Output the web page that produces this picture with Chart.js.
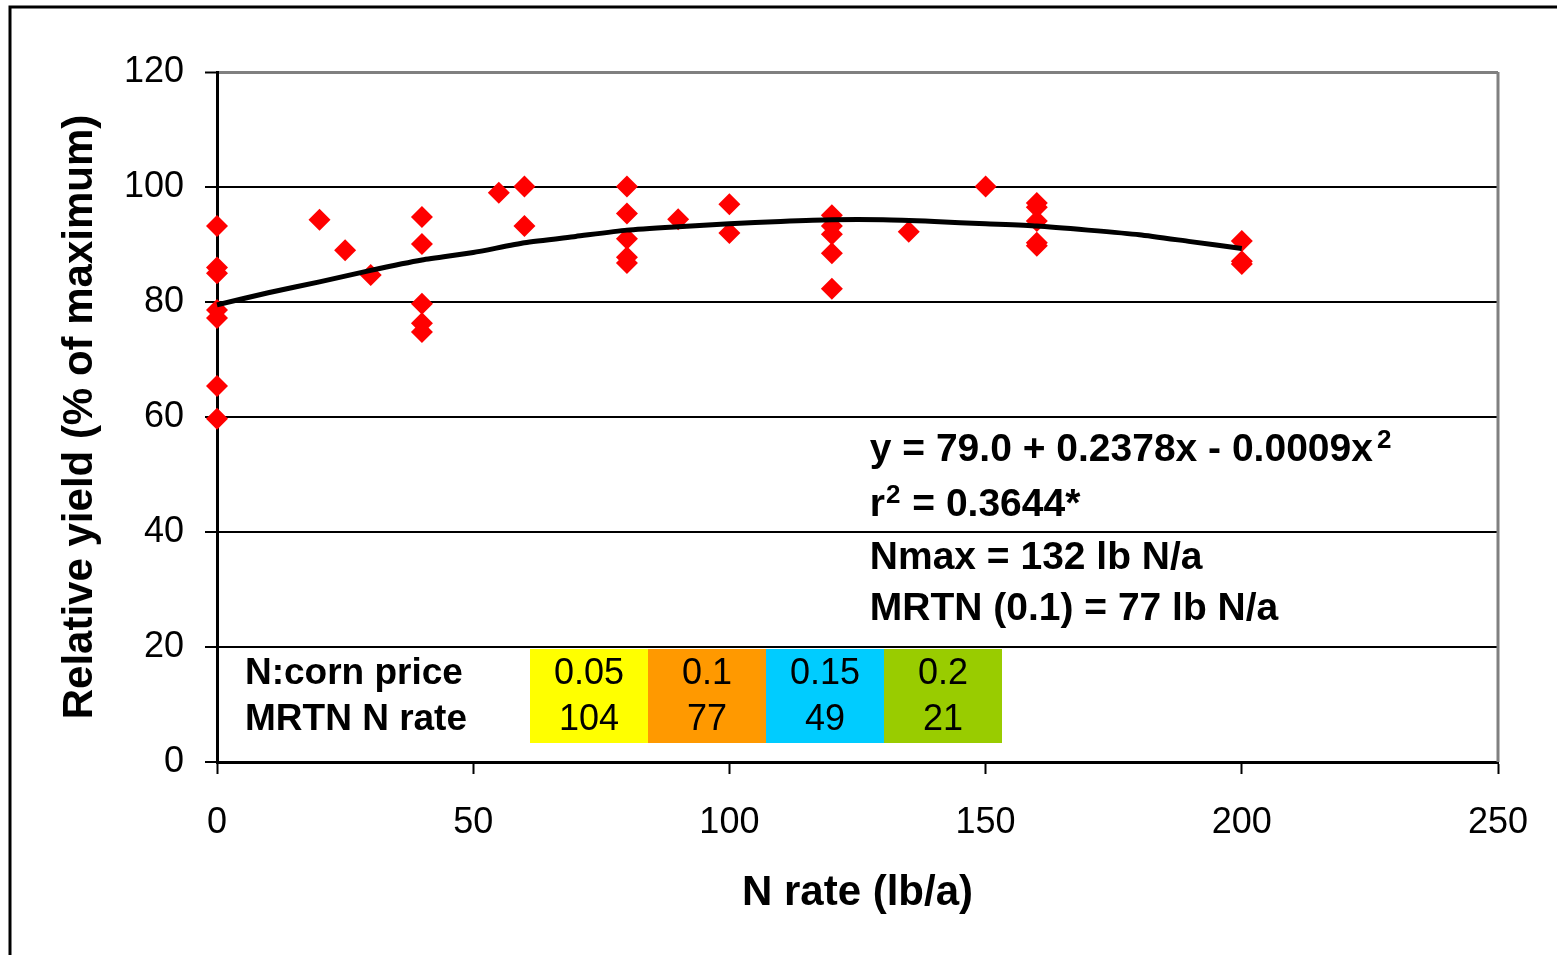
<!DOCTYPE html>
<html>
<head>
<meta charset="utf-8">
<script src="https://cdn.jsdelivr.net/npm/chart.js@4"></script>
<style>
  html, body { margin: 0; padding: 0; background: #fff; }
  #wrap { width: 1557px; height: 955px; }
</style>
</head>
<body>
<div id="wrap"><canvas id="chartCanvas" width="1557" height="955"></canvas></div>
<script>
// --- observed data (N rate vs relative yield) ---
const nRate = [0, 0, 0, 0, 0, 0, 0, 20, 25, 30, 40, 40, 40, 40, 40, 55, 60, 60,
  80, 80, 80, 80, 80, 90, 100, 100, 120, 120, 120, 120, 120, 135, 150,
  160, 160, 160, 160, 160, 200, 200, 200];
const relYield = [93.2, 86.0, 85.0, 78.6, 77.2, 65.4, 59.7, 94.3, 89.0, 84.7,
  94.8, 90.1, 79.7, 76.3, 74.8, 99.0, 100.1, 93.2,
  100.1, 95.4, 91.0, 87.8, 86.8, 94.4, 97.0, 92.0,
  95.1, 93.2, 91.8, 88.5, 82.3, 92.2, 100.1,
  97.2, 96.5, 94.1, 90.3, 89.8, 90.6, 87.1, 86.6];

// --- fitted curve ---
const trendRate = [0, 10, 20, 30, 40, 50, 60, 70, 80, 90, 100, 110, 120, 130, 140, 150, 160, 170, 180, 190, 200];
const trendYield = [79.5, 81.6, 83.5, 85.5, 87.3, 88.6, 90.3, 91.4, 92.5, 93.1, 93.6, 94.0, 94.3, 94.3, 94.0, 93.6, 93.2, 92.5, 91.7, 90.5, 89.3];

// --- tick values ---
const xTicks = [0, 50, 100, 150, 200, 250];
const yTicks = [0, 20, 40, 60, 80, 100, 120];

// --- inset table ---
const priceRatio = ["0.05", "0.1", "0.15", "0.2"];
const mrtnRate = ["104", "77", "49", "21"];
const cellColors = ["#FFFF00", "#FF9900", "#00CCFF", "#99CC00"];

const FONT = "'Liberation Sans', Arial, sans-serif";

const points = nRate.map((x, i) => ({ x, y: relYield[i] }));
const trend = trendRate.map((x, i) => ({ x, y: trendYield[i] }));

// draws frame, right border, equation text and table
const decor = {
  id: "decor",
  beforeDraw(chart) {
    const ctx = chart.ctx;
    ctx.save();
    ctx.fillStyle = "#fff";
    ctx.fillRect(0, 0, chart.width, chart.height);
    ctx.strokeStyle = "#000";
    ctx.lineWidth = 3;
    ctx.beginPath();
    ctx.moveTo(10, chart.height);
    ctx.lineTo(10, 7);
    ctx.lineTo(chart.width, 7);
    ctx.stroke();
    ctx.restore();
  },
  afterDraw(chart) {
    const ctx = chart.ctx;
    const a = chart.chartArea;
    const xs = chart.scales.x, ys = chart.scales.y;
    ctx.save();

    // right plot border (grey)
    ctx.strokeStyle = "#808080";
    ctx.lineWidth = 3;
    ctx.beginPath();
    ctx.moveTo(a.right, a.top);
    ctx.lineTo(a.right, a.bottom);
    ctx.stroke();

    // equation block
    ctx.fillStyle = "#000";
    ctx.textBaseline = "middle";
    ctx.textAlign = "left";
    const tx = xs.getPixelForValue(127.4);
    const big = "bold 39px " + FONT, sup = "bold 26px " + FONT;
    let y1 = ys.getPixelForValue(54.2);
    ctx.font = big;
    const s1 = "y = 79.0 + 0.2378x - 0.0009x";
    ctx.fillText(s1, tx, y1);
    let w1 = ctx.measureText(s1).width;
    ctx.font = sup;
    ctx.fillText("2", tx + w1 + 4, y1 - 10);

    let y2 = ys.getPixelForValue(44.6);
    ctx.font = big;
    ctx.fillText("r", tx, y2);
    let wr = ctx.measureText("r").width;
    ctx.font = sup;
    ctx.fillText("2", tx + wr + 1, y2 - 10);
    let ws = ctx.measureText("2").width;
    ctx.font = big;
    ctx.fillText(" = 0.3644*", tx + wr + ws + 2, y2);

    ctx.fillText("Nmax = 132 lb N/a", tx, ys.getPixelForValue(35.4));
    ctx.fillText("MRTN (0.1) = 77 lb N/a", tx, ys.getPixelForValue(26.6));

    // inset table
    const r1 = 674, r2 = 720;
    const cellLeft = 530, cellW = 118, cellTop = 649, cellH = 94;
    cellColors.forEach((c, i) => {
      ctx.fillStyle = c;
      ctx.fillRect(cellLeft + i * cellW, cellTop, cellW, cellH);
    });
    ctx.fillStyle = "#000";
    ctx.font = "bold 37px " + FONT;
    ctx.fillText("N:corn price", 245, r1);
    ctx.fillText("MRTN N rate", 245, r2);
    ctx.font = "36px " + FONT;
    ctx.textAlign = "center";
    priceRatio.forEach((t, i) => ctx.fillText(t, cellLeft + i * cellW + cellW / 2, r1));
    mrtnRate.forEach((t, i) => ctx.fillText(t, cellLeft + i * cellW + cellW / 2, r2));
    ctx.restore();
  }
};

new Chart(document.getElementById("chartCanvas"), {
  type: "scatter",
  data: {
    datasets: [
      {
        label: "fit",
        data: trend,
        showLine: true,
        borderColor: "#000",
        borderWidth: 5,
        pointRadius: 0,
        tension: 0.2,
        clip: false
      },
      {
        label: "observed",
        data: points,
        pointStyle: "rectRot",
        pointRadius: 11,
        pointBackgroundColor: "#FF0000",
        pointBorderColor: "#FF0000",
        pointBorderWidth: 0,
        clip: false
      }
    ]
  },
  options: {
    responsive: false,
    animation: false,
    layout: { padding: { top: 72, right: 59, left: 0, bottom: 0 } },
    plugins: { legend: { display: false }, tooltip: { enabled: false } },
    scales: {
      x: {
        type: "linear",
        min: 0, max: 250,
        afterBuildTicks: s => { s.ticks = xTicks.map(v => ({ value: v })); },
        afterFit: s => { s.height = 193; },
        grid: { drawOnChartArea: false, drawTicks: true, tickLength: 12, tickColor: "#000", tickWidth: 2 },
        border: { color: "#000", width: 3 },
        ticks: { color: "#000", padding: 27, maxRotation: 0, font: { family: FONT, size: 36 } },
        title: {
          display: true, text: "N rate (lb/a)", color: "#000",
          padding: { bottom: 36, top: 0 },
          font: { family: FONT, size: 42, weight: "bold" }
        }
      },
      y: {
        type: "linear",
        min: 0, max: 120,
        afterBuildTicks: s => { s.ticks = yTicks.map(v => ({ value: v })); },
        afterFit: s => { s.width = 217; },
        grid: {
          color: c => (c.tick && c.tick.value === 120 ? "#808080" : "#000"),
          lineWidth: c => (c.tick && c.tick.value === 120 ? 3 : 2),
          tickLength: 12, tickColor: "#000", tickWidth: 2
        },
        border: { color: "#000", width: 3 },
        ticks: { color: "#000", padding: 21, font: { family: FONT, size: 36 } },
        title: {
          display: true, text: "Relative yield (% of maximum)", color: "#000",
          padding: { top: 55, bottom: 0 },
          font: { family: FONT, size: 42, weight: "bold" }
        }
      }
    }
  },
  plugins: [decor]
});
</script>
</body>
</html>
